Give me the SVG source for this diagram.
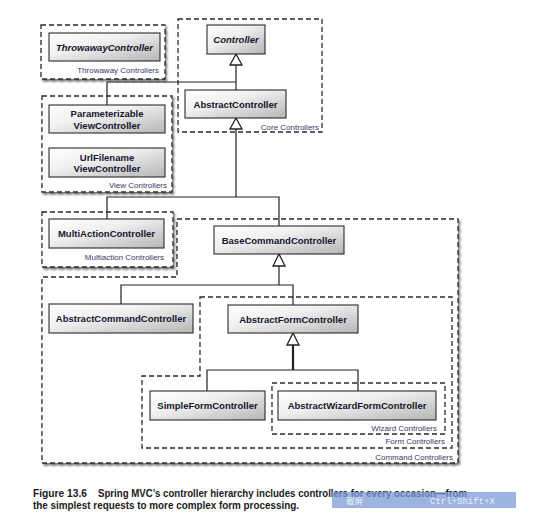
<svg xmlns="http://www.w3.org/2000/svg" width="558" height="526" viewBox="0 0 558 526">
<defs>
  <linearGradient id="nodeFill" x1="0" y1="0" x2="1" y2="1">
    <stop offset="0" stop-color="#ffffff"/>
    <stop offset="0.4" stop-color="#f0f0f0"/>
    <stop offset="1" stop-color="#b5b5b5"/>
  </linearGradient>
  <filter id="shadow" x="-10%" y="-10%" width="130%" height="130%">
    <feDropShadow dx="1.5" dy="2" stdDeviation="1.2" flood-color="#000" flood-opacity="0.55"/>
  </filter>
  <style>
    .grp { fill: #ffffff; stroke: #2a2a2a; stroke-width: 1.3; stroke-dasharray: 5 3; }
    .node { fill: url(#nodeFill); stroke: #2a2a2a; stroke-width: 1.1; }
    .nt { font-family: "Liberation Sans", Arial, sans-serif; font-size: 9.5px; font-weight: bold; fill: #15152e; text-anchor: middle; }
    .it { font-style: italic; }
    .gl { font-family: "Liberation Sans", Arial, sans-serif; font-size: 8px; fill: #3a3a66; text-anchor: end; }
    .ln { fill: none; stroke: #222; stroke-width: 1.2; }
    .tri { fill: #ffffff; stroke: #222; stroke-width: 1.3; }
    .cap { font-family: "Liberation Sans", Arial, sans-serif; font-size: 10px; font-weight: bold; fill: #1a1a1a; }
  </style>
</defs>
<rect width="558" height="526" fill="#ffffff"/>

<!-- Group containers -->
<g id="command-controllers">
  <path class="grp" filter="url(#shadow)" d="M177,219 H458 V463 H42 V277 H177 Z"/>
  <text class="gl" x="453" y="460">Command Controllers</text>
</g>
<g id="form-controllers">
  <path class="grp" d="M200,297 H452 V448 H142 V376 H200 Z"/>
  <text class="gl" x="445" y="444">Form Controllers</text>
</g>
<g id="wizard-controllers">
  <rect class="grp" x="272" y="383" width="173" height="51"/>
  <text class="gl" x="437" y="431">Wizard Controllers</text>
</g>
<g id="core-controllers">
  <rect class="grp" x="178" y="19" width="144" height="113"/>
  <text class="gl" x="319" y="130">Core Controllers</text>
</g>
<g id="throwaway-controllers">
  <rect class="grp" filter="url(#shadow)" x="41" y="25" width="124" height="54"/>
  <text class="gl" x="159" y="73">Throwaway Controllers</text>
</g>
<g id="view-controllers">
  <rect class="grp" filter="url(#shadow)" x="42" y="96" width="130" height="96"/>
  <text class="gl" x="167" y="188">View Controllers</text>
</g>
<g id="multiaction-controllers">
  <rect class="grp" filter="url(#shadow)" x="42" y="212" width="131" height="55"/>
  <text class="gl" x="164" y="260">Multiaction Controllers</text>
</g>

<!-- Connectors -->
<g id="connectors">
  <path class="ln" d="M236,65 V90"/>
  <path class="tri" d="M236,54 L242,65 L230,65 Z"/>
  <path class="ln" d="M107,105 V82 H236"/>
  <path class="ln" d="M236,129 V197"/>
  <path class="tri" d="M236,118 L242,129 L230,129 Z"/>
  <path class="ln" d="M107,219 V197 H279 V226"/>
  <path class="ln" d="M279,266 V285"/>
  <path class="tri" d="M279,254 L285,266 L273,266 Z"/>
  <path class="ln" d="M121,304 V285 H293 V305"/>
  <path class="ln" d="M293,345 V370" style="stroke-width:2.2"/>
  <path class="tri" d="M293,333 L299,345 L287,345 Z"/>
  <path class="ln" d="M207,391 V370 H358 V391"/>
</g>

<!-- Nodes -->
<g id="ThrowawayController">
  <rect class="node" x="49" y="33" width="111" height="28"/>
  <text class="nt it" x="104.5" y="50.5">ThrowawayController</text>
</g>
<g id="Controller">
  <rect class="node" x="207" y="25" width="58" height="29"/>
  <text class="nt it" x="236" y="43">Controller</text>
</g>
<g id="AbstractController">
  <rect class="node" x="185" y="90" width="101" height="28"/>
  <text class="nt" x="235.5" y="107.5">AbstractController</text>
</g>
<g id="ParameterizableViewController">
  <rect class="node" x="49" y="105" width="116" height="28"/>
  <text class="nt" x="107" y="117">Parameterizable</text>
  <text class="nt" x="107" y="128.5">ViewController</text>
</g>
<g id="UrlFilenameViewController">
  <rect class="node" x="49" y="148" width="116" height="29"/>
  <text class="nt" x="107" y="160.5">UrlFilename</text>
  <text class="nt" x="107" y="172">ViewController</text>
</g>
<g id="MultiActionController">
  <rect class="node" x="49" y="219" width="115" height="29"/>
  <text class="nt" x="106.5" y="237">MultiActionController</text>
</g>
<g id="BaseCommandController">
  <rect class="node" x="214" y="226" width="130" height="28"/>
  <text class="nt" x="279" y="243.5">BaseCommandController</text>
</g>
<g id="AbstractCommandController">
  <rect class="node" x="49" y="304" width="144" height="29"/>
  <text class="nt" x="121" y="322">AbstractCommandController</text>
</g>
<g id="AbstractFormController">
  <rect class="node" x="228" y="305" width="130" height="28"/>
  <text class="nt" x="293" y="322.5">AbstractFormController</text>
</g>
<g id="SimpleFormController">
  <rect class="node" x="150" y="391" width="115" height="29"/>
  <text class="nt" x="207.5" y="409">SimpleFormController</text>
</g>
<g id="AbstractWizardFormController">
  <rect class="node" x="278" y="391" width="158" height="29"/>
  <text class="nt" x="357" y="409">AbstractWizardFormController</text>
</g>

<!-- Caption -->
<g id="caption">
  <text class="cap" x="33" y="497" textLength="54" lengthAdjust="spacingAndGlyphs">Figure 13.6</text>
  <text class="cap" x="98" y="497" textLength="369" lengthAdjust="spacingAndGlyphs">Spring MVC’s controller hierarchy includes controllers for every occasion—from</text>
  <text class="cap" x="33" y="509" textLength="266" lengthAdjust="spacingAndGlyphs">the simplest requests to more complex form processing.</text>
</g>
<g id="screenshot-tip">
  <rect x="332" y="492" width="184" height="16" fill="#7c9bd6" fill-opacity="0.75"/>
  <text x="346" y="504" font-family="'Noto Sans CJK SC', sans-serif" font-size="8.5px" fill="#e8eefa">截屏</text>
  <text x="430" y="504" font-family="'Liberation Mono', monospace" font-size="9px" fill="#e8eefa">Ctrl+Shift+X</text>
</g>
</svg>
